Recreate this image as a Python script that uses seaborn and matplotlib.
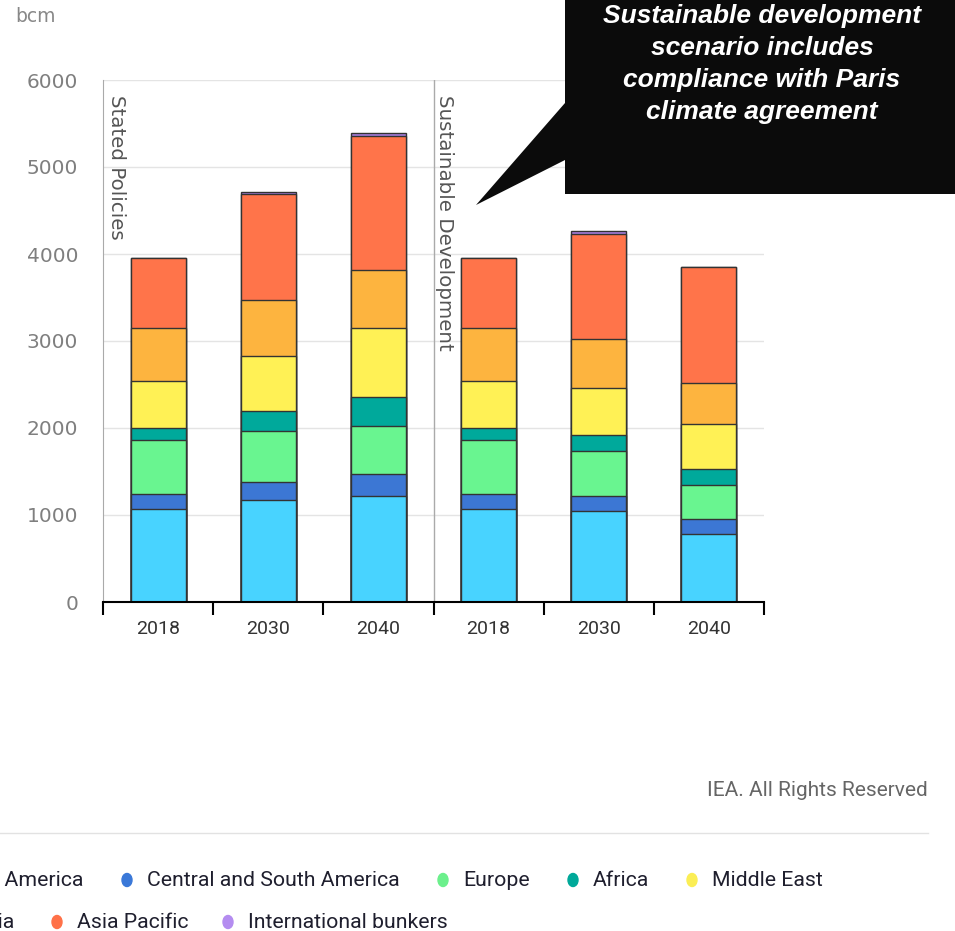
import numpy as np
import pandas as pd
import matplotlib.pyplot as plt
import seaborn as sns
from matplotlib.patches import Polygon, Ellipse

# data (bcm)
bar_keys = ["SP 2018", "SP 2030", "SP 2040", "SD 2018", "SD 2030", "SD 2040"]
year_labels = ["2018", "2030", "2040", "2018", "2030", "2040"]
scenario_labels = ["Stated Policies", "Sustainable Development"]

regions = ["North America", "Central and South America", "Europe", "Africa",
           "Middle East", "Eurasia", "Asia Pacific", "International bunkers"]
north_america = [1070, 1175, 1215, 1070, 1045, 780]
central_south_america = [175, 210, 255, 175, 175, 170]
europe = [615, 575, 555, 615, 510, 395]
africa = [145, 235, 330, 145, 185, 180]
middle_east = [540, 630, 800, 540, 545, 520]
eurasia = [600, 645, 665, 600, 560, 475]
asia_pacific = [810, 1215, 1535, 810, 1210, 1325]
intl_bunkers = [0, 25, 40, 0, 30, 0]

colors = ["#48d3ff", "#3c77d4", "#69f590", "#00a99b", "#fff155",
          "#fdb43f", "#ff744a", "#a97edf"]
dot_colors = ["#48d3ff", "#3a78d8", "#6cf08c", "#00a99a", "#fbee55",
              "#fdb240", "#ff7148", "#b48cf0"]

callout_lines = ["Sustainable development", "scenario includes",
                 "compliance with Paris", "climate agreement"]

series = [north_america, central_south_america, europe, africa,
          middle_east, eurasia, asia_pacific, intl_bunkers]
df = pd.DataFrame(dict(zip(regions, series)), index=bar_keys)
cum = df.cumsum(axis=1)

W, H = 955, 931
fig = plt.figure(figsize=(W / 100, H / 100), dpi=100)
ax = fig.add_axes([103 / W, 1 - 602 / H, (764 - 103) / W, (602 - 80) / H])

# stacked bars: draw the tallest cumulative layer first, smaller ones over it
for i in range(len(regions) - 1, -1, -1):
    sns.barplot(x=bar_keys, y=cum[regions[i]].values, order=bar_keys,
                color=colors[i], saturation=1, width=0.5, errorbar=None,
                edgecolor="#333333", linewidth=1, ax=ax)

ax.set_xlim(-0.5, 5.5)
ax.set_ylim(0, 6000)
ax.set_yticks(range(0, 6001, 1000))
ax.yaxis.grid(True, color="#e4e4e4", lw=1)
ax.set_axisbelow(True)
for s in ["top", "right"]:
    ax.spines[s].set_visible(False)
ax.spines["left"].set_color("#aaaaaa")
ax.spines["bottom"].set_color("black")
ax.spines["bottom"].set_linewidth(1.5)
ax.set_xlabel("")
ax.set_ylabel("")
ax.tick_params(axis="y", length=0, pad=18, labelsize=14.5, labelcolor="#7f7f7f")
ax.set_xticks(range(len(bar_keys)))
ax.set_xticklabels(year_labels, fontfamily="Roboto", fontsize=14, color="#333333")
ax.tick_params(axis="x", which="major", length=0, pad=13)
ax.set_xticks(np.arange(-0.5, 6, 1), minor=True)
ax.tick_params(axis="x", which="minor", length=9, width=1.5, color="black", direction="out")

ax.axvline(2.5, color="#aaaaaa", lw=1)
ax.text(-0.38, 5830, scenario_labels[0], rotation=-90, ha="center", va="top",
        fontsize=14.3, color="#555555")
ax.text(2.6, 5830, scenario_labels[1], rotation=-90, ha="center", va="top",
        fontsize=14.3, color="#555555")

# overlay in pixel coordinates for annotations and legend
ov = fig.add_axes([0, 0, 1, 1], zorder=5)
ov.set_xlim(0, W)
ov.set_ylim(H, 0)
ov.axis("off")
ov.patch.set_alpha(0)

ov.text(15, 17, "bcm", ha="left", va="center", fontsize=13.5, color="#888888")

callout = Polygon([(565, 0), (W + 5, 0), (W + 5, 194), (565, 194), (565, 160),
                   (476, 205), (565, 103)], closed=True, facecolor="#0b0b0b",
                  edgecolor="none")
ov.add_patch(callout)
for k, line in enumerate(callout_lines):
    ov.text(762, 16 + 32 * k, line, ha="center", va="center", color="white",
            fontfamily="Liberation Sans", fontweight="bold", fontstyle="italic",
            fontsize=19)

ov.text(928, 791, "IEA. All Rights Reserved", ha="right", va="center",
        fontfamily="Roboto", fontsize=15, color="#666666")
ov.plot([0, 928], [833, 833], color="#e2e2e2", lw=1)

# legend (the left edge of the original is cut off)
legend_rows = [880, 880, 880, 880, 880, 922, 922, 922]
legend_text_x = [83, 147, 463, 593, 712, 14, 77, 248]
for i, name in enumerate(regions):
    y = legend_rows[i]
    if i in (0, 5):
        ov.text(legend_text_x[i], y + 1, name, ha="right", va="center",
                fontfamily="Roboto", fontsize=15.3, color="#1f1f2e")
        continue
    ov.add_patch(Ellipse((legend_text_x[i] - 20, y), 10, 13, color=dot_colors[i]))
    ov.text(legend_text_x[i], y + 1, name, ha="left", va="center",
            fontfamily="Roboto", fontsize=15.3, color="#1f1f2e")

fig.savefig("out.png", dpi=100)
